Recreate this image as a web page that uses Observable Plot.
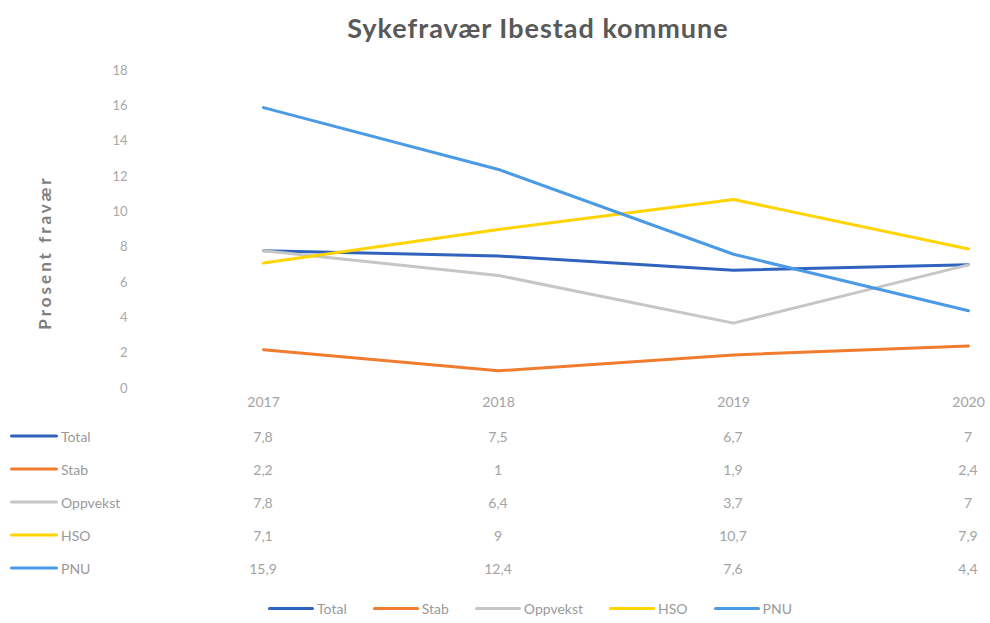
<!DOCTYPE html>
<html>
<head>
<meta charset="utf-8">
<script src="https://cdn.jsdelivr.net/npm/d3@7"></script>
<script src="https://cdn.jsdelivr.net/npm/@observablehq/plot@0.6"></script>
<style>
  body { margin: 0; background: #fff; font-family: Lato, "Open Sans", sans-serif; }
  #wrap { position: relative; width: 990px; height: 623px; overflow: hidden; }
  #title { position: absolute; left: 0; top: 0; width: 990px; text-align: center; padding-left: 86px; box-sizing: border-box;
           line-height: 56px; font-size: 27px; font-weight: bold; color: #595959; letter-spacing: 1px; }
  #chart { position: absolute; left: 0; top: 56px; }
  #chart g[aria-label="text"] text { letter-spacing: 3px; }
  .cell { position: absolute; font-size: 14px; color: #a3a3a3; transform: translate(-50%, -50%); white-space: nowrap; }
  .rowlab { position: absolute; font-size: 14px; color: #9a9a9a; transform: translateY(-50%); white-space: nowrap; }
  .sw { position: absolute; height: 3px; border-radius: 2px; transform: translateY(-50%); }
  #legend { position: absolute; left: 0; top: 600px; width: 990px; display: flex; justify-content: center; padding-left: 70px; box-sizing: border-box; font-size: 14px; color: #9a9a9a; }
  .li { display: flex; align-items: center; margin: 0 13px; }
  .li span.s { display: inline-block; width: 46px; height: 3px; border-radius: 2px; margin-right: 3px; }
</style>
</head>
<body>
<div id="wrap">
  <div id="title">Sykefravær Ibestad kommune</div>
</div>
<script>
const years = ["2017", "2018", "2019", "2020"];
const series = ["Total", "Stab", "Oppvekst", "HSO", "PNU"];
const colors = ["#2f63be", "#f07c30", "#c6c6c6", "#ffd400", "#4b9ae6"];
const total = [7.8, 7.5, 6.7, 7];
const stab = [2.2, 1, 1.9, 2.4];
const oppvekst = [7.8, 6.4, 3.7, 7];
const hso = [7.1, 9, 10.7, 7.9];
const pnu = [15.9, 12.4, 7.6, 4.4];
const yTicks = [0, 2, 4, 6, 8, 10, 12, 14, 16, 18];
const yLabel = "Prosent fravær";

const values = [total, stab, oppvekst, hso, pnu];
const data = series.flatMap((s, i) => years.map((y, j) => ({series: s, year: y, value: values[i][j]})));
const fmt = v => String(v).replace(".", ",");

const chart = Plot.plot({
  width: 990,
  height: 362,
  marginTop: 14,
  marginBottom: 30,
  marginLeft: 145,
  marginRight: 22,
  style: {fontFamily: "Lato, 'Open Sans', sans-serif", background: "transparent"},
  x: {type: "point", domain: years, range: [262, 968], padding: 0},
  y: {domain: [0, 18]},
  color: {domain: series, range: colors},
  marks: [
    Plot.axisY({ticks: yTicks, tickSize: 0, tickPadding: 18, label: null, fontSize: 13, color: "#a8a8a8"}),
    Plot.axisX({tickSize: 0, tickPadding: 9, label: null, fontSize: 14, color: "#a3a3a3"}),
    Plot.line(data, {x: "year", y: "value", stroke: "series", z: "series", strokeWidth: 3, strokeLinecap: "round", strokeLinejoin: "round"}),
    Plot.text([yLabel], {frameAnchor: "left", textAnchor: "middle", rotate: -90, dx: -100, dy: 23, fontSize: 17, fontWeight: "bold", fill: "#7f7f7f"})
  ]
});
chart.id = "chart";
const wrap = document.getElementById("wrap");
wrap.appendChild(chart);

const xs = chart.scale("x");
const rowTop = 436, rowStep = 33;
series.forEach((s, i) => {
  const cy = rowTop + i * rowStep;
  const sw = document.createElement("div");
  sw.className = "sw";
  sw.style.left = "10px"; sw.style.width = "48px"; sw.style.top = cy + "px"; sw.style.background = colors[i];
  wrap.appendChild(sw);
  const lab = document.createElement("div");
  lab.className = "rowlab";
  lab.style.left = "61px"; lab.style.top = cy + "px";
  lab.textContent = s;
  wrap.appendChild(lab);
  years.forEach((y, j) => {
    const c = document.createElement("div");
    c.className = "cell";
    c.style.left = xs.apply(y) + "px"; c.style.top = cy + "px";
    c.textContent = fmt(values[i][j]);
    wrap.appendChild(c);
  });
});

const legend = document.createElement("div");
legend.id = "legend";
series.forEach((s, i) => {
  const li = document.createElement("div");
  li.className = "li";
  li.innerHTML = `<span class="s" style="background:${colors[i]}"></span><span>${s}</span>`;
  legend.appendChild(li);
});
wrap.appendChild(legend);
</script>
</body>
</html>
